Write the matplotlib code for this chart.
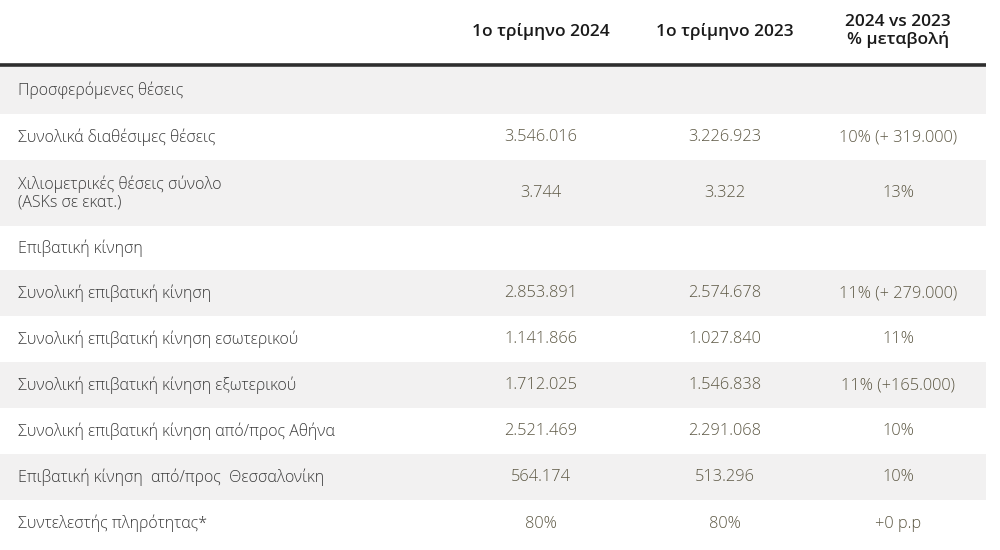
import matplotlib.pyplot as plt
from matplotlib.patches import Rectangle

plt.rcParams['font.family'] = ['Open Sans', 'Noto Sans', 'DejaVu Sans']

# table content
col_headers = ["1ο τρίμηνο 2024", "1ο τρίμηνο 2023", "2024 vs 2023\n% μεταβολή"]
row_labels = [
    "Προσφερόμενες θέσεις",
    "Συνολικά διαθέσιμες θέσεις",
    "Χιλιομετρικές θέσεις σύνολο\n(ASKs σε εκατ.)",
    "Επιβατική κίνηση",
    "Συνολική επιβατική κίνηση",
    "Συνολική επιβατική κίνηση εσωτερικού",
    "Συνολική επιβατική κίνηση εξωτερικού",
    "Συνολική επιβατική κίνηση από/προς Αθήνα",
    "Επιβατική κίνηση  από/προς  Θεσσαλονίκη",
    "Συντελεστής πληρότητας*",
]
q1_2024 = ["", "3.546.016", "3.744", "", "2.853.891", "1.141.866",
           "1.712.025", "2.521.469", "564.174", "80%"]
q1_2023 = ["", "3.226.923", "3.322", "", "2.574.678", "1.027.840",
           "1.546.838", "2.291.068", "513.296", "80%"]
change = ["", "10% (+ 319.000)", "13%", "", "11% (+ 279.000)", "11%",
          "11% (+165.000)", "10%", "10%", "+0 p.p"]

# layout (pixels)
W, H = 1000, 550
table_right = 986
header_line_y = 65
row_heights = [47, 46, 66, 44, 46, 46, 46, 46, 46, 47]
col_x = [541, 725, 898]
label_x = 18

fig = plt.figure(figsize=(10, 5.5), dpi=100)
ax = fig.add_axes([0, 0, 1, 1])
ax.set_xlim(0, W)
ax.set_ylim(H, 0)
ax.axis('off')

# header
for x, h in zip(col_x, col_headers):
    ax.text(x, 31, h, ha='center', va='center', fontsize=12.5,
            color='#1a1a1a', fontweight='semibold', linespacing=1.05)
ax.plot([0, table_right], [header_line_y, header_line_y], color='#2e2e2e', lw=2.6,
        solid_capstyle='butt')

# rows
y = header_line_y + 2
for i, (lab, a, b, c) in enumerate(zip(row_labels, q1_2024, q1_2023, change)):
    h = row_heights[i]
    if i % 2 == 0:
        ax.add_patch(Rectangle((0, y), table_right, h, color='#f2f1f1', lw=0))
    yc = y + h / 2
    ax.text(label_x, yc, lab, ha='left', va='center', fontsize=11.5,
            color='#3b3b3b', fontweight='light', linespacing=1.2)
    for x, v in zip(col_x, [a, b, c]):
        ax.text(x, yc, v, ha='center', va='center', fontsize=11.8,
                color='#5c5743', fontweight='light')
    y += h

fig.savefig("out.png", dpi=100)
